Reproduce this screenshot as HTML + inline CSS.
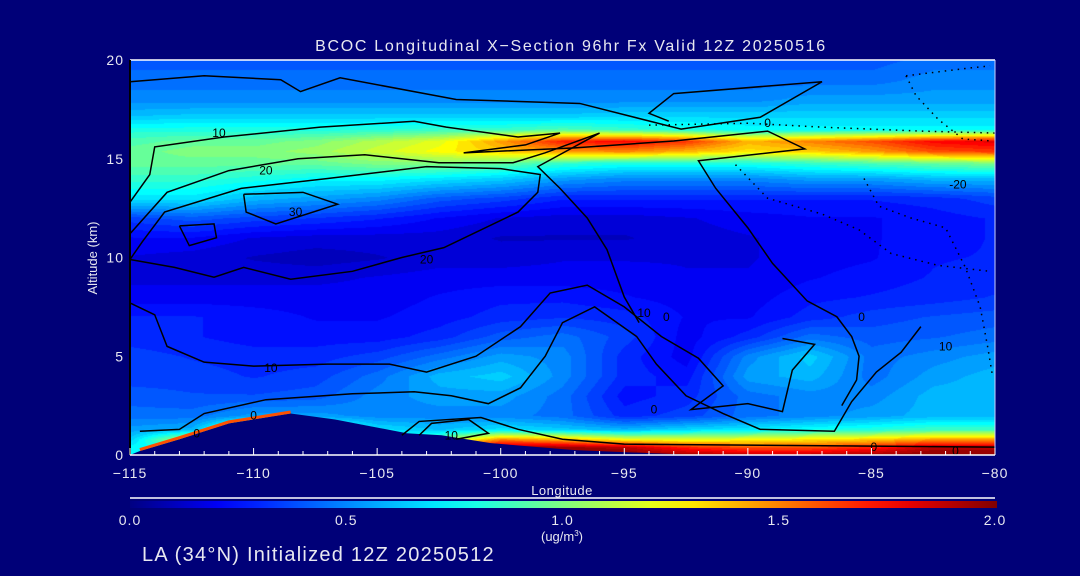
<!DOCTYPE html>
<html><head><meta charset="utf-8"><style>
body{margin:0;background:#000078;width:1080px;height:576px;overflow:hidden;font-family:"Liberation Sans",sans-serif;}
#wrap{position:relative;width:1080px;height:576px;}
canvas{position:absolute;left:130px;top:60px;}
svg{position:absolute;left:0;top:0;}
text{fill:#e8e8f0;font-family:"Liberation Sans",sans-serif;}
</style></head><body>
<div id="wrap">
<canvas id="field" width="865" height="395"></canvas>
<svg id="svg" width="1080" height="576"></svg>
</div>
<script>
const lons=[-115,-112.5,-110,-107.5,-105,-102.5,-100,-97.5,-95,-92.5,-90,-87.5,-85,-82.5,-80];
const alts=[20,19,18,17.2,16.5,15.9,15.4,14.8,14,13,12,11,10,9,8,7,6,5,4,3,2,1.3,0.8,0.4,0];
const r20=[.40,.40,.40,.40,.40,.40,.40,.40,.40,.40,.40,.40,.40,.45,.45];
const r19=[.45,.45,.45,.45,.45,.45,.45,.45,.45,.45,.45,.45,.45,.50,.50];
const r18=[.50,.50,.50,.50,.50,.50,.50,.50,.50,.50,.50,.55,.55,.55,.55];
const r172=[.62,.64,.64,.64,.64,.64,.64,.64,.66,.66,.66,.66,.66,.66,.66];
const r165=[.80,.80,.80,.80,.82,.85,.85,.90,.85,.80,.75,.75,.75,.75,.75];
const r159=[.90,.95,.95,1.0,1.1,1.2,1.45,1.7,1.75,1.65,1.4,1.5,1.6,1.75,1.8];
const r154=[.95,1.0,1.0,1.05,1.15,1.25,1.35,1.45,1.5,1.4,1.3,1.35,1.45,1.6,1.65];
const r148=[.95,.95,.95,.95,1.0,1.0,.95,.85,.80,.80,.80,.85,.90,.95,1.0];
const r14=[.85,.85,.80,.75,.75,.70,.65,.55,.50,.50,.50,.55,.55,.60,.60];
const r13=[.70,.70,.60,.55,.50,.40,.35,.28,.28,.28,.28,.28,.28,.30,.35];
const r12=[.35,.40,.35,.32,.28,.22,.17,.15,.15,.17,.20,.22,.22,.25,.28];
const r11=[.22,.22,.17,.15,.15,.15,.12,.12,.12,.15,.17,.20,.22,.25,.28];
const r10=[.17,.15,.12,.10,.12,.15,.15,.17,.17,.17,.17,.20,.22,.27,.28];
const r9=[.16,.16,.16,.16,.18,.20,.20,.20,.20,.18,.18,.22,.25,.28,.30];
const r8=[.20,.20,.20,.20,.20,.23,.26,.26,.23,.20,.20,.26,.28,.30,.33];
const r7=[.28,.28,.25,.22,.22,.25,.30,.32,.30,.22,.22,.30,.35,.38,.40];
const r6=[.30,.28,.25,.25,.25,.30,.40,.45,.35,.20,.30,.45,.40,.42,.45];
const r5=[.35,.32,.30,.30,.35,.45,.55,.50,.30,.20,.50,.65,.45,.50,.55];
const r4=[.35,.35,.32,.35,.45,.60,.65,.50,.30,.25,.55,.60,.45,.55,.60];
const r3=[.40,.38,.38,.40,.50,.55,.55,.45,.25,.30,.45,.50,.50,.60,.60];
const r2=[.45,.45,.55,.55,.50,.50,.50,.45,.30,.35,.45,.50,.55,.60,.60];
const r13b=[.55,.60,1.2,1.0,.70,.62,.70,.65,.60,.68,.72,.78,.82,.88,.88];
const r08=[.65,1.2,1.5,.8,.7,1.0,1.5,1.4,1.25,1.2,1.25,1.3,1.35,1.45,1.45];
const r04=[.75,.80,.8,.8,.8,1.6,1.95,1.95,1.9,1.7,1.6,1.6,1.7,1.9,1.9];
const r0=[.75,.75,.8,.8,.8,1.6,1.95,2.0,2.0,1.95,1.9,1.9,1.95,2.0,2.0];
const values=[r20,r19,r18,r172,r165,r159,r154,r148,r14,r13,r12,r11,r10,r9,r8,r7,r6,r5,r4,r3,r2,r13b,r08,r04,r0];
const terrainLon=[-115,-114.6,-113,-111,-108.5,-106.7,-103.8,-102.4,-100.4,-97,-94.1,-92,-80];
const terrainAlt=[0,0.2,0.8,1.6,2.1,1.8,1.1,1.0,0.6,0.25,0.1,0,0];
const xTicks=[-115,-110,-105,-100,-95,-90,-85,-80];
const yTicks=[0,5,10,15,20];
const cbTicks=[0.0,0.5,1.0,1.5,2.0];
const contours=[
 {dash:false,pts:[[-115,18.9],[-112,19.2],[-108.9,19.0],[-108.1,18.4],[-106.5,19.1],[-101.8,18.0],[-96.8,17.8],[-92.7,16.5],[-89.5,17.1],[-87,18.9],[-93,18.3],[-94,17.3],[-93.2,16.9]]},
 {dash:false,pts:[[-115,12.8],[-114.2,14.2],[-114,15.6],[-111.2,16.1],[-107.3,16.6],[-103.5,16.9],[-102.2,16.6],[-99.3,16.1],[-97.6,16.3],[-99,15.7],[-101.5,15.3],[-97,15.55],[-93,15.9],[-89.2,16.4],[-87.7,15.5],[-92,14.9],[-91.3,13.5],[-90,11.5],[-89,9.7],[-87.6,7.8],[-86.4,7.0],[-85.8,6.0],[-85.5,5.0],[-85.6,3.8],[-86.2,2.5]]},
 {dash:false,pts:[[-115,11.2],[-113.5,13.3],[-111,14.4],[-108.2,15.0],[-105.5,15.2],[-102.5,14.8],[-99.5,14.8],[-98.2,15.3],[-96,16.3],[-98.5,14.6],[-97.6,13.5],[-96.5,12.0],[-95.7,10.4],[-95,8.0],[-94.4,6.7]]},
 {dash:false,pts:[[-115,9.9],[-113.2,9.5],[-111.6,9.0],[-110.4,9.5],[-108.5,8.9],[-106,9.3],[-104,10.0],[-102.3,10.5],[-99.3,12.3],[-98.5,13.3],[-98.4,14.2],[-100,14.5],[-103,14.6],[-107,14.0],[-110.5,13.5],[-113.6,12.3],[-114.5,10.8],[-115,9.9]]},
 {dash:false,pts:[[-110.4,13.2],[-110.3,12.3],[-109.1,11.7],[-106.6,12.7],[-108,13.3],[-110.4,13.2]]},
 {dash:false,pts:[[-113,11.6],[-111.6,11.7],[-111.5,11.0],[-112.6,10.6],[-113,11.6]]},
 {dash:false,pts:[[-115,7.7],[-114,7.1],[-113.5,5.5],[-112,4.7],[-110,4.5],[-107,4.6],[-104.5,4.6],[-103,4.2],[-101,5.0],[-99.2,6.5],[-98,8.2],[-96.5,8.6],[-95,7.5],[-93.5,6.0],[-92,4.9],[-91,3.5],[-92.3,2.3],[-90,2.6],[-88.6,2.2],[-88.2,4.3],[-87.3,5.6],[-88.6,5.9]]},
 {dash:false,pts:[[-114.6,1.2],[-113,1.3],[-112,2.1],[-109.5,2.8],[-106,3.1],[-103.5,3.2],[-102,3.0],[-100.5,2.6],[-99.2,3.4],[-98.2,5.0],[-97.5,6.7],[-96.2,7.5],[-94.5,6.0],[-93.7,4.6],[-92.5,3.0],[-91,2.1],[-89.5,1.3],[-86.5,1.2],[-85.8,2.7],[-84.8,4.2],[-83.8,5.2],[-83.0,6.5]]},
 {dash:false,pts:[[-103.3,1.0],[-102.8,1.6],[-101.3,1.8],[-100.5,1.1],[-101.8,0.8]]},
 {dash:false,pts:[[-104,1.0],[-103.3,1.7],[-100.8,1.9],[-99.3,1.3],[-97.5,0.8],[-95,0.55],[-90,0.5],[-85,0.45],[-80,0.4]]},
 {dash:true,pts:[[-83.6,19.2],[-81,19.6],[-80.2,19.7]]},
 {dash:true,pts:[[-83.6,19.2],[-83.2,18.2],[-82.3,17.0],[-81.3,16.0],[-80.1,15.9]]},
 {dash:true,pts:[[-85.3,14.0],[-84.7,12.6],[-83.4,12.0],[-82.0,11.5],[-81.2,9.5],[-80.6,7.5],[-80.3,5.5],[-80.1,4.0]]},
 {dash:true,pts:[[-90.5,14.7],[-89.2,13.0],[-87,12.2],[-85.5,11.4],[-84.2,10.2],[-82.3,9.6],[-80.2,9.3]]},
 {dash:true,pts:[[-94,16.7],[-90,16.8],[-87,16.6],[-83,16.4],[-80,16.3]]}
];
const labels=[["10",-111.4,16.3],["20",-109.5,14.4],["30",-108.3,12.3],["20",-103,9.9],["10",-109.3,4.4],["0",-89.2,16.8],["-20",-81.5,13.7],["10",-94.2,7.2],["0",-93.3,7.0],["0",-85.4,7.0],["0",-93.8,2.3],["10",-102,1.0],["0",-110,2.0],["0",-112.3,1.1],["0",-84.9,0.4],["0",-81.6,0.2],["10",-82,5.5]];

const X0=130,X1=995,Y0=60,Y1=455;
const xs=l=>X0+(l+115)/35*(X1-X0);
const ys=a=>Y1-a/20*(Y1-Y0);
function jet(v){let t=Math.max(0,Math.min(1,v/2));
 const st=[[0,0,0,130],[0.11,0,0,255],[0.375,0,255,255],[0.625,255,255,0],[0.875,255,0,0],[1,128,0,0]];
 for(let i=1;i<st.length;i++){if(t<=st[i][0]){const a=st[i-1],b=st[i],f=(t-a[0])/(b[0]-a[0]);return [a[1]+(b[1]-a[1])*f,a[2]+(b[2]-a[2])*f,a[3]+(b[3]-a[3])*f];}}
 return [128,0,0];}
function sample(lon,alt){
 let i=Math.min(lons.length-2,Math.max(0,Math.floor((lon+115)/2.5)));
 let fx=Math.max(0,Math.min(1,(lon-lons[i])/(lons[i+1]-lons[i])));
 let j=0;while(j<alts.length-2&&alt<alts[j+1])j++;
 let fy=Math.max(0,Math.min(1,(alts[j]-alt)/(alts[j]-alts[j+1])));
 const a=values[j][i],b=values[j][i+1],c=values[j+1][i],d=values[j+1][i+1];
 return (a*(1-fx)+b*fx)*(1-fy)+(c*(1-fx)+d*fx)*fy;}
const cv=document.getElementById('field');const ctx=cv.getContext('2d');
const W=cv.width,H=cv.height;const img=ctx.createImageData(W,H);
for(let y=0;y<H;y++){const alt=(H-y)/H*20;for(let x=0;x<W;x++){const lon=-115+x/W*35;
 let v=sample(lon,alt);v=Math.round(v*20)/20;const c=jet(v);const k=(y*W+x)*4;
 img.data[k]=c[0];img.data[k+1]=c[1];img.data[k+2]=c[2];img.data[k+3]=255;}}
ctx.putImageData(img,0,0);

const NS='http://www.w3.org/2000/svg';const svg=document.getElementById('svg');
function mk(tag,attrs,parent){const e=document.createElementNS(NS,tag);for(const k in attrs)e.setAttribute(k,attrs[k]);(parent||svg).appendChild(e);return e;}
let tp=terrainLon.map((l,i)=>xs(l)+','+ys(terrainAlt[i])).join(' ')+' '+xs(-80)+','+Y1+' '+xs(-115)+','+Y1;
const terr=mk('polygon',{points:tp,fill:'#000078'});


const rim=mk('polyline',{points:terrainLon.slice(1,5).map((l,i)=>xs(l)+','+(ys(terrainAlt[i+1])-1.5)).join(' '),fill:'none',stroke:'#ff5000','stroke-width':3});


contours.forEach((c,ci)=>{
 const pl=mk('polyline',{points:c.pts.map(p=>xs(p[0])+','+ys(p[1])).join(' '),fill:'none',stroke:'#000','stroke-width':1.5,'stroke-dasharray':c.dash?'1.5,5':'none'});
 
 
});
labels.forEach(l=>{
 const t=mk('text',{x:xs(l[1]),y:ys(l[2])+4,'font-size':12,'text-anchor':'middle',style:'fill:#000'});t.textContent=l[0];
 
 
});
mk('line',{x1:X0,y1:Y0,x2:X1,y2:Y0,stroke:'#fff','stroke-width':1.5});
mk('line',{x1:X0,y1:Y0,x2:X0,y2:Y1,stroke:'#000','stroke-width':2});
mk('line',{x1:X1,y1:Y0,x2:X1,y2:Y1,stroke:'#c8d0ff','stroke-width':1});
const xa=mk('line',{x1:X0,y1:Y1,x2:X1,y2:Y1,stroke:'#fff','stroke-width':1.5});


for(let l=-115;l<=-80;l++){const major=(l%5===0);mk('line',{x1:xs(l),y1:Y1,x2:xs(l),y2:Y1-(major?7:4),stroke:'#fff','stroke-width':1});}
xTicks.forEach(l=>{const t=mk('text',{x:xs(l),y:478,'font-size':14,'text-anchor':'middle','letter-spacing':1});t.textContent=(l<0?'\u2212':'')+Math.abs(l);
 
 });
yTicks.forEach(a=>{const t=mk('text',{x:124,y:ys(a)+5,'font-size':14,'text-anchor':'end','letter-spacing':1});t.textContent=a;
 
 });
mk('line',{x1:130,y1:498,x2:995,y2:498,stroke:'#fff','stroke-width':1.5});
const defs=mk('defs',{});const lg=mk('linearGradient',{id:'cb',x1:0,x2:1,y1:0,y2:0},defs);
for(let i=0;i<=20;i++){const c=jet(i/10);mk('stop',{offset:i/20,'stop-color':`rgb(${c.map(Math.round).join(',')})`},lg);}
const cb=mk('rect',{x:130,y:501,width:867,height:7,fill:'url(#cb)'});


cbTicks.forEach(v=>{const t=mk('text',{x:130+v/2*865,y:525,'font-size':14,'text-anchor':'middle','letter-spacing':1});t.textContent=v.toFixed(1);
 
 });
</script>
<svg width="1080" height="576" style="position:absolute;left:0;top:0;pointer-events:none">
<text x="571" y="51" font-size="16" text-anchor="middle" letter-spacing="1.7">BCOC Longitudinal X&#8722;Section 96hr  Fx Valid 12Z 20250516</text>
<text x="97" y="258" font-size="13" text-anchor="middle" transform="rotate(-90 97 258)">Altitude (km)</text>
<text x="562" y="495" font-size="13" text-anchor="middle" letter-spacing="0.5">Longitude</text>
<text x="562" y="541" font-size="13" text-anchor="middle">(ug/m<tspan font-size="8" dy="-5">3</tspan><tspan dy="5">)</tspan></text>
<text x="142" y="561" font-size="20" letter-spacing="1.25">LA (34°N) Initialized 12Z 20250512</text>
</svg>
</body></html>
